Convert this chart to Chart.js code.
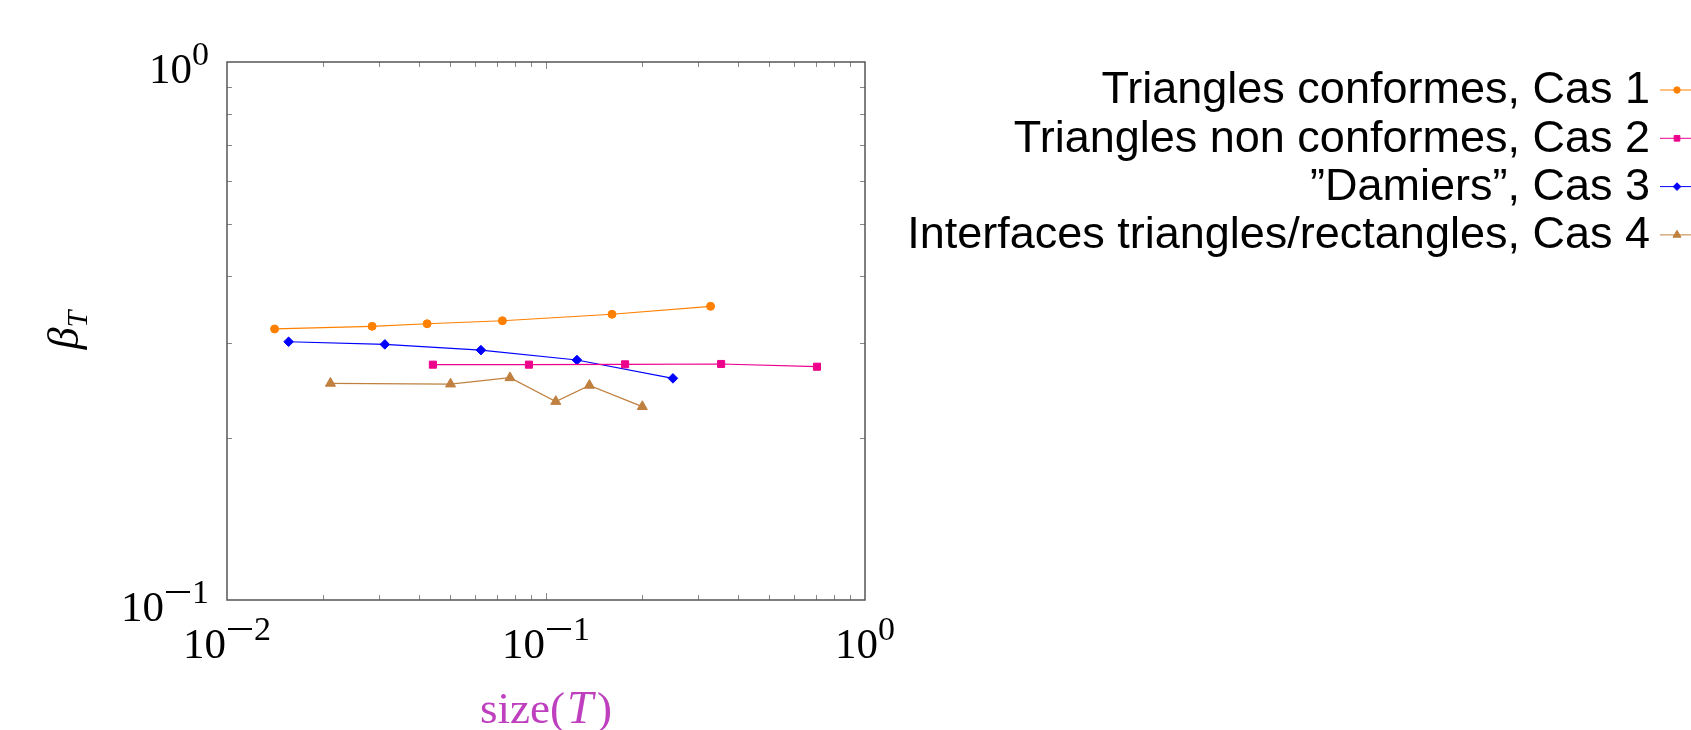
<!DOCTYPE html>
<html>
<head>
<meta charset="utf-8">
<script src="https://cdn.jsdelivr.net/npm/chart.js@4.4.1/dist/chart.umd.min.js"></script>
<style>
  html, body { margin: 0; padding: 0; background: #ffffff; }
  #wrap { width: 1691px; height: 730px; position: relative; }
</style>
</head>
<body>
<div id="wrap"><canvas id="chart"></canvas></div>
<script>
// series values (x = size(T), y = beta_T)
const cas1X = [0.0141, 0.0285, 0.0424, 0.0730, 0.161, 0.328];
const cas1Y = [0.3190, 0.3226, 0.3262, 0.3304, 0.3397, 0.3515];
const cas2X = [0.0442, 0.0884, 0.177, 0.354, 0.707];
const cas2Y = [0.2738, 0.2738, 0.2742, 0.2746, 0.2714];
const cas3X = [0.0156, 0.03125, 0.0625, 0.125, 0.25];
const cas3Y = [0.3020, 0.2986, 0.2914, 0.2793, 0.2582];
const cas4X = [0.0211, 0.0502, 0.0771, 0.1073, 0.1368, 0.2004];
const cas4Y = [0.2528, 0.2520, 0.2589, 0.2339, 0.2506, 0.2288];

const seriesLabels = [
    'Triangles conformes, Cas 1',
    'Triangles non conformes, Cas 2',
    '\u201dDamiers\u201d, Cas 3',
    'Interfaces triangles/rectangles, Cas 4'
];
const xTickExps = [-2, -1, 0];
const yTickExps = [-1, 0];

const pts = (xs, ys) => xs.map((x, i) => ({ x: x, y: ys[i] }));

const serif = "'Liberation Serif', 'DejaVu Serif', serif";
const sans = "'Liberation Sans', Arial, sans-serif";

// "10" with a superscript exponent, minus drawn wide like TeX's
function drawPow(ctx, exp, x, baseline, align) {
    const base = '10';
    const digit = String(Math.abs(exp));
    ctx.font = '43px ' + serif;
    const wb = ctx.measureText(base).width;
    ctx.font = '34px ' + serif;
    const wd = ctx.measureText(digit).width;
    const wm = exp < 0 ? 28 : 0;
    const total = wb + wm + wd;
    const left = align === 'right' ? x - total : x - total / 2;
    ctx.textAlign = 'left';
    ctx.textBaseline = 'alphabetic';
    ctx.fillStyle = '#000';
    ctx.strokeStyle = '#000';
    ctx.font = '43px ' + serif;
    ctx.fillText(base, left, baseline);
    const sb = baseline - 18;
    if (exp < 0) {
        ctx.lineWidth = 2;
        ctx.beginPath();
        ctx.moveTo(left + wb + 2, sb - 11);
        ctx.lineTo(left + wb + wm - 2, sb - 11);
        ctx.stroke();
    }
    ctx.font = '34px ' + serif;
    ctx.fillText(digit, left + wb + wm, sb);
}

const axesPlugin = {
    id: 'pgfAxes',
    beforeDatasetsDraw(chart) {
        const { ctx, chartArea: a, scales } = chart;
        const xs = scales.x, ys = scales.y;
        ctx.save();
        // inward ticks
        ctx.strokeStyle = '#888';
        ctx.lineWidth = 1;
        ctx.beginPath();
        for (let d = -2; d < 0; d++) {
            for (let m = 1; m <= 9; m++) {
                const v = m * Math.pow(10, d);
                if (v <= 0.01) continue;
                const px = Math.round(xs.getPixelForValue(v)) + 0.5;
                const len = m === 1 ? 7 : 5;
                ctx.moveTo(px, a.bottom); ctx.lineTo(px, a.bottom - len);
                ctx.moveTo(px, a.top); ctx.lineTo(px, a.top + len);
            }
        }
        for (let m = 2; m <= 9; m++) {
            const py = Math.round(ys.getPixelForValue(m * 0.1)) + 0.5;
            ctx.moveTo(a.left, py); ctx.lineTo(a.left + 5, py);
            ctx.moveTo(a.right, py); ctx.lineTo(a.right - 5, py);
        }
        ctx.stroke();
        // frame
        ctx.strokeStyle = '#555';
        ctx.lineWidth = 1.5;
        ctx.strokeRect(a.left, a.top, a.right - a.left, a.bottom - a.top);
        ctx.restore();
    },
    afterDraw(chart) {
        const { ctx, chartArea: a, scales } = chart;
        ctx.save();
        xTickExps.forEach(e => {
            drawPow(ctx, e, scales.x.getPixelForValue(Math.pow(10, e)), a.bottom + 58, 'center');
        });
        yTickExps.forEach(e => {
            drawPow(ctx, e, a.left - 18, scales.y.getPixelForValue(Math.pow(10, e)) + 21, 'right');
        });

        // x title: size(T)
        ctx.fillStyle = '#bf40bf';
        ctx.textBaseline = 'alphabetic';
        ctx.textAlign = 'left';
        const p1 = 'size(', p2 = 'T', p3 = ')';
        ctx.font = '45px ' + serif;
        const w1 = ctx.measureText(p1).width, w3 = ctx.measureText(p3).width;
        ctx.font = 'italic 47px ' + serif;
        const w2 = ctx.measureText(p2).width + 6;
        const xl = (a.left + a.right) / 2 - (w1 + w2 + w3) / 2;
        ctx.font = '45px ' + serif;
        ctx.fillText(p1, xl, 723);
        ctx.font = 'italic 47px ' + serif;
        ctx.fillText(p2, xl + w1 + 2, 723);
        ctx.font = '45px ' + serif;
        ctx.fillText(p3, xl + w1 + w2, 723);

        // y title: beta_T
        ctx.fillStyle = '#000';
        ctx.translate(68, 330);
        ctx.rotate(-Math.PI / 2);
        ctx.font = 'italic 44px ' + serif;
        const wb = ctx.measureText('\u03b2').width;
        ctx.font = 'italic 30px ' + serif;
        const wt = ctx.measureText('T').width;
        const x0 = -(wb + wt) / 2;
        ctx.font = 'italic 44px ' + serif;
        ctx.fillText('\u03b2', x0, 10);
        ctx.font = 'italic 30px ' + serif;
        ctx.fillText('T', x0 + wb, 19);
        ctx.restore();

        // legend: text right aligned, sample line + mark on the right
        ctx.save();
        chart.data.datasets.forEach((ds, i) => {
            const y = 90 + i * 48.3;
            ctx.font = '45px ' + sans;
            ctx.fillStyle = '#000';
            ctx.textAlign = 'right';
            ctx.textBaseline = 'alphabetic';
            ctx.fillText(ds.label, 1650, y + 13.3);
            ctx.strokeStyle = ds.borderColor;
            ctx.lineWidth = 1;
            ctx.beginPath();
            ctx.moveTo(1660, y); ctx.lineTo(1700, y);
            ctx.stroke();
            ctx.fillStyle = ds.pointBackgroundColor;
            ctx.strokeStyle = ds.pointBackgroundColor;
            Chart.helpers.drawPoint(ctx, {
                pointStyle: ds.pointStyle,
                radius: ds.pointRadius * 0.8,
                rotation: 0,
                borderWidth: 1
            }, 1677, y);
        });
        ctx.restore();
    }
};

const colors = ['#ff8000', '#ec008c', '#0000ff', '#bf8040'];
const styles = ['circle', 'rect', 'rectRot', 'triangle'];
const radii = [4, 5, 4.8, 5.8];
const seriesData = [pts(cas1X, cas1Y), pts(cas2X, cas2Y), pts(cas3X, cas3Y), pts(cas4X, cas4Y)];

const ctx = document.getElementById('chart').getContext('2d');
new Chart(ctx, {
    type: 'line',
    data: {
        datasets: seriesData.map((d, i) => ({
            label: seriesLabels[i],
            data: d,
            borderColor: colors[i],
            backgroundColor: colors[i],
            pointBackgroundColor: colors[i],
            pointBorderColor: colors[i],
            pointBorderWidth: 1,
            pointStyle: styles[i],
            pointRadius: radii[i],
            borderWidth: 1.2,
            tension: 0,
            fill: false
        }))
    },
    options: {
        responsive: true,
        maintainAspectRatio: false,
        animation: false,
        devicePixelRatio: 1,
        layout: { padding: { left: 227, top: 62, right: 826, bottom: 130 } },
        plugins: {
            legend: { display: false },
            tooltip: { enabled: false }
        },
        scales: {
            x: { type: 'logarithmic', min: 0.01, max: 1, display: false },
            y: { type: 'logarithmic', min: 0.1, max: 1, display: false }
        }
    },
    plugins: [axesPlugin]
});
</script>
</body>
</html>
